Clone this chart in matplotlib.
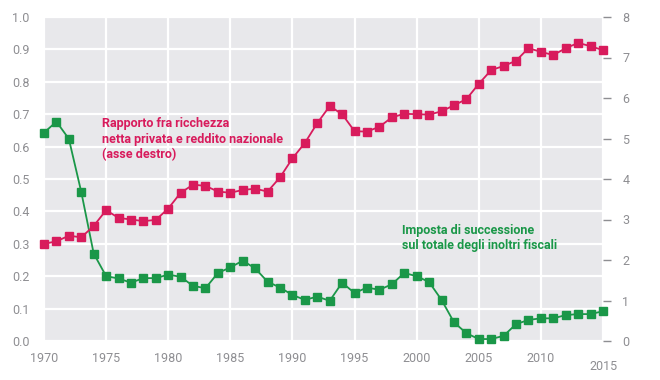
import matplotlib
matplotlib.use("Agg")
import matplotlib.pyplot as plt
import matplotlib.transforms as mtransforms

# years 1970-2015
years = list(range(1970, 2016))

# Imposta di successione sul totale degli inoltri fiscali (asse sinistro)
tassa_successione = [
    0.643, 0.677, 0.624, 0.460, 0.270, 0.200, 0.193, 0.180, 0.194, 0.194,
    0.205, 0.198, 0.170, 0.163, 0.210, 0.227, 0.248, 0.224, 0.183, 0.165,
    0.142, 0.127, 0.137, 0.124, 0.180, 0.148, 0.165, 0.158, 0.175, 0.210,
    0.200, 0.182, 0.127, 0.058, 0.024, 0.006, 0.006, 0.016, 0.052, 0.065,
    0.070, 0.070, 0.080, 0.083, 0.083, 0.092,
]

# Rapporto fra ricchezza netta privata e reddito nazionale (asse destro)
ricchezza_reddito = [
    2.40, 2.46, 2.60, 2.56, 2.84, 3.23, 3.04, 3.00, 2.96, 2.99,
    3.27, 3.66, 3.86, 3.83, 3.69, 3.66, 3.73, 3.76, 3.69, 4.04,
    4.51, 4.89, 5.38, 5.80, 5.60, 5.18, 5.17, 5.29, 5.52, 5.61,
    5.60, 5.59, 5.67, 5.82, 5.97, 6.35, 6.69, 6.79, 6.92, 7.23,
    7.14, 7.06, 7.23, 7.36, 7.28, 7.18,
]

left_ticks = [0.0, 0.1, 0.2, 0.3, 0.4, 0.5, 0.6, 0.7, 0.8, 0.9, 1.0]
right_ticks = [0, 1, 2, 3, 4, 5, 6, 7, 8]
year_ticks = [1970, 1975, 1980, 1985, 1990, 1995, 2000, 2005, 2010, 2015]

RED = "#d81b5c"
GREEN = "#1a9748"
BG = "#e8e8eb"
TICK = "#8e8e92"

plt.rcParams["font.family"] = ["Roboto", "DejaVu Sans"]

fig = plt.figure(figsize=(6.6, 3.8), dpi=100)
ax = fig.add_axes([44 / 660, 1 - 341 / 380, (603 - 44) / 660, (341 - 17) / 380])
ax2 = ax.twinx()

ax.set_facecolor(BG)
ax.set_xlim(1970, 2015)
ax.set_ylim(0, 1.0)
ax2.set_ylim(0, 8)

ax.set_yticks(left_ticks)
ax.set_yticklabels([f"{v:.1f}" for v in left_ticks])
ax.set_xticks(year_ticks)
ax2.set_yticks(right_ticks)

ax.grid(True, color="white", linewidth=1.6)
ax.set_axisbelow(True)

for a in (ax, ax2):
    for s in a.spines.values():
        s.set_visible(False)

ax.tick_params(axis="both", length=0, colors=TICK, labelsize=9)
ax.tick_params(axis="y", pad=23)
ax.tick_params(axis="x", pad=8)
ax2.tick_params(axis="y", length=6, width=1, colors=TICK, labelsize=9, pad=8, direction="out")
for lbl in ax.get_yticklabels():
    lbl.set_horizontalalignment("left")

# tassa: green, on left axis
ax.plot(years, tassa_successione, color=GREEN, linewidth=1.3, marker="s",
        markersize=5.6, clip_on=False, zorder=3)
# ricchezza: red, on right axis
ax2.plot(years, ricchezza_reddito, color=RED, linewidth=1.3, marker="s",
         markersize=5.6, clip_on=False, zorder=3)

ax.text(1974.7, 0.69, "Rapporto fra ricchezza\nnetta privata e reddito nazionale\n(asse destro)",
        color=RED, fontsize=9, fontweight="bold", va="top", ha="left", linespacing=1.22)
ax.text(1998.8, 0.362, "Imposta di successione\nsul totale degli inoltri fiscali",
        color=GREEN, fontsize=9, fontweight="bold", va="top", ha="left", linespacing=1.22)

# last x label sits a bit lower in the original
fig.canvas.draw()
last = ax.get_xticklabels()[-1]
last.set_transform(last.get_transform() + mtransforms.ScaledTranslation(0, -8 / 100, fig.dpi_scale_trans))

fig.savefig("out.png", dpi=100)
